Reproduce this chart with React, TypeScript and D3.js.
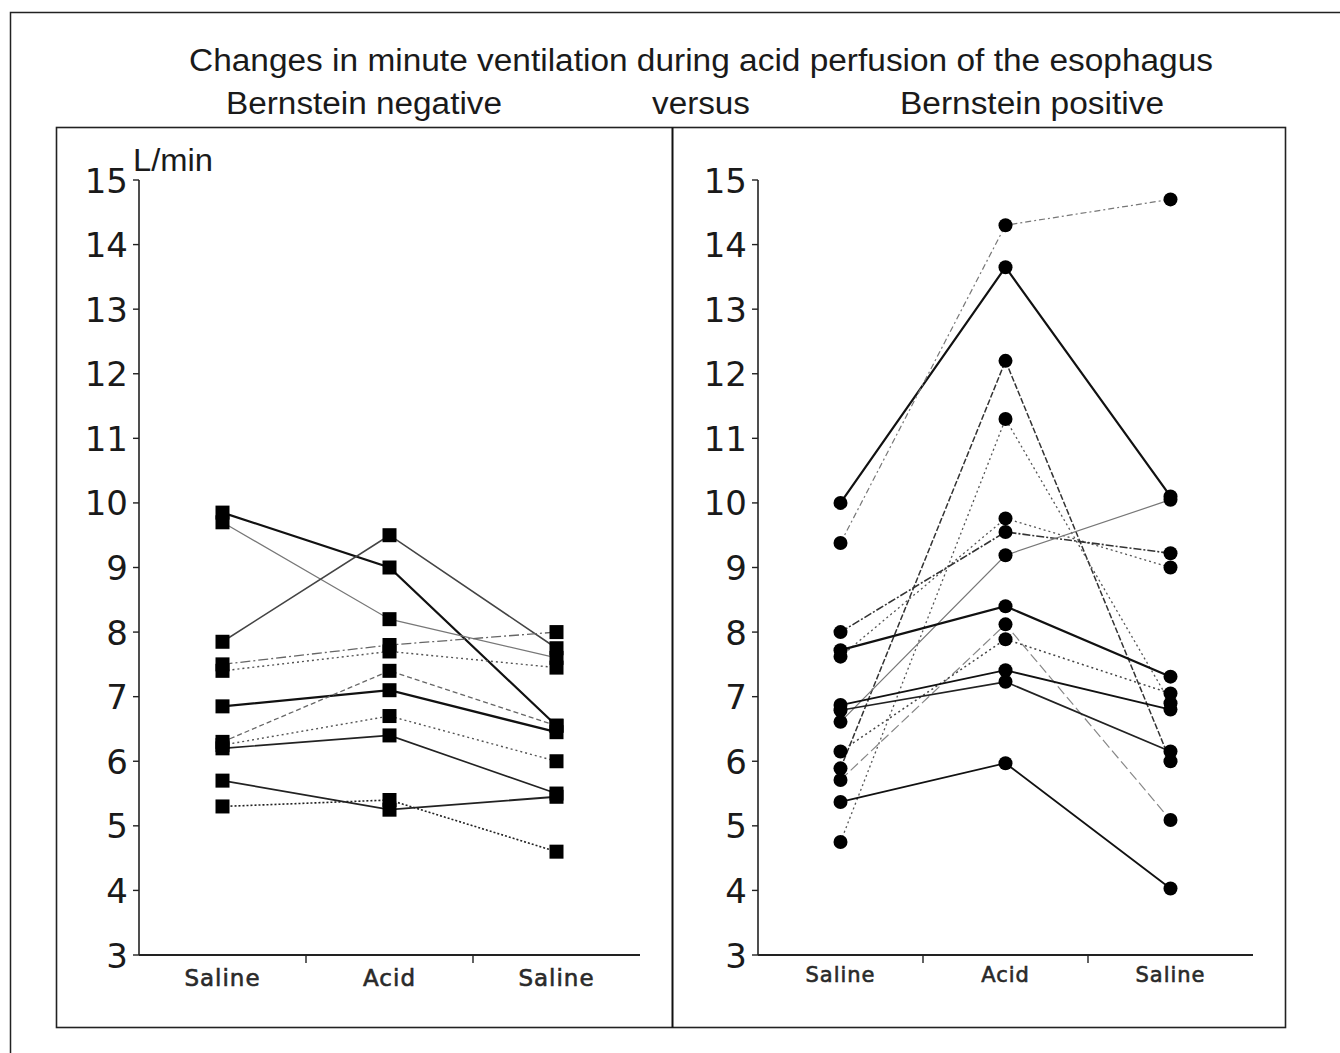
import React from "react";
import * as d3 from "d3";

// Phases of the perfusion protocol (x axis)
const phases = ["Saline", "Acid", "Saline"];
const yTicks = [3, 4, 5, 6, 7, 8, 9, 10, 11, 12, 13, 14, 15];

// Bernstein negative subjects: minute ventilation (L/min) per phase
const negSaline1 = [9.85, 9.7, 7.85, 7.5, 7.4, 6.85, 6.3, 6.25, 6.2, 5.7, 5.3];
const negAcid = [9.0, 8.2, 9.5, 7.8, 7.7, 7.1, 7.4, 6.7, 6.4, 5.25, 5.4];
const negSaline2 = [6.55, 7.6, 7.75, 8.0, 7.45, 6.45, 6.55, 6.0, 5.5, 5.45, 4.6];

// Bernstein positive subjects
const posSaline1 = [10.0, 9.38, 5.89, 4.75, 7.62, 8.0, 6.61, 7.72, 5.71, 6.15, 6.87, 6.79, 5.37];
const posAcid = [13.65, 14.3, 12.2, 11.3, 9.76, 9.55, 9.19, 8.4, 8.12, 7.89, 7.41, 7.23, 5.97];
const posSaline2 = [10.1, 14.7, 6.0, 6.9, 9.0, 9.22, 10.05, 7.31, 5.09, 7.05, 6.8, 6.15, 4.03];

type LineStyle = { stroke: string; width: number; dash?: string };

const negStyles: LineStyle[] = [
  { stroke: "#111", width: 2.2 },
  { stroke: "#777", width: 1.2 },
  { stroke: "#444", width: 1.6 },
  { stroke: "#666", width: 1.3, dash: "10,3,2,3" },
  { stroke: "#555", width: 1.4, dash: "2,3" },
  { stroke: "#111", width: 2.2 },
  { stroke: "#666", width: 1.3, dash: "5,3" },
  { stroke: "#555", width: 1.4, dash: "2,3" },
  { stroke: "#222", width: 1.6 },
  { stroke: "#222", width: 1.8 },
  { stroke: "#222", width: 1.6, dash: "2,2" },
];

const posStyles: LineStyle[] = [
  { stroke: "#111", width: 2.2 },
  { stroke: "#777", width: 1.2, dash: "6,3,2,3" },
  { stroke: "#333", width: 1.5, dash: "6,2" },
  { stroke: "#555", width: 1.3, dash: "2,3" },
  { stroke: "#555", width: 1.3, dash: "2,3" },
  { stroke: "#333", width: 1.6, dash: "8,2,2,2" },
  { stroke: "#777", width: 1.2 },
  { stroke: "#111", width: 2.2 },
  { stroke: "#888", width: 1.2, dash: "10,4" },
  { stroke: "#444", width: 1.5, dash: "2,3" },
  { stroke: "#111", width: 1.9 },
  { stroke: "#222", width: 1.7 },
  { stroke: "#111", width: 1.9 },
];

const FONT = "'Liberation Sans', Arial, Helvetica, sans-serif";
const TICK_FONT = "'DejaVu Sans', Verdana, sans-serif";

type PanelProps = {
  axisX: number;
  endX: number;
  s1: number[];
  ac: number[];
  s2: number[];
  styles: LineStyle[];
  marker: "square" | "circle";
  labelSize: number;
  labelY: number;
};

function Panel({ axisX, endX, s1, ac, s2, styles, marker, labelSize, labelY }: PanelProps) {
  const y = d3.scaleLinear().domain([3, 15]).range([955, 180]);
  const x = d3.scaleBand<number>().domain([0, 1, 2]).range([axisX, endX]);
  const cx = (i: number) => (x(i) as number) + x.bandwidth() / 2;
  const line = d3
    .line<[number, number]>()
    .x((d) => cx(d[0]))
    .y((d) => y(d[1]));
  const subjects = s1.map((v, i) => [v, ac[i], s2[i]]);

  return (
    <g>
      {/* y axis */}
      <line x1={axisX} x2={axisX} y1={y(15)} y2={y(3)} stroke="#222" strokeWidth={1.6} />
      {yTicks.map((t) => (
        <g key={t}>
          <line x1={axisX - 6} x2={axisX} y1={y(t)} y2={y(t)} stroke="#222" strokeWidth={1.4} />
          <text
            x={axisX - 11}
            y={y(t)}
            dy="0.37em"
            textAnchor="end"
            fontFamily={TICK_FONT}
            fontSize={34}
            fill="#1a1a1a"
          >
            {t}
          </text>
        </g>
      ))}
      {/* x axis */}
      <line x1={axisX} x2={endX} y1={y(3)} y2={y(3)} stroke="#222" strokeWidth={2} />
      {[1, 2].map((i) => (
        <line
          key={i}
          x1={x(i) as number}
          x2={x(i) as number}
          y1={y(3)}
          y2={y(3) + 8}
          stroke="#222"
          strokeWidth={1.4}
        />
      ))}
      {phases.map((p, i) => (
        <text
          key={i}
          x={cx(i)}
          y={labelY}
          textAnchor="middle"
          fontFamily={TICK_FONT}
          fontSize={labelSize}
          letterSpacing={1}
          fill="#2a2a2a"
          stroke="#2a2a2a"
          strokeWidth={0.6}
        >
          {p}
        </text>
      ))}
      {/* subject lines */}
      {subjects.map((vals, i) => (
        <path
          key={i}
          d={line(vals.map((v, k) => [k, v] as [number, number])) as string}
          fill="none"
          stroke={styles[i].stroke}
          strokeWidth={styles[i].width}
          strokeDasharray={styles[i].dash}
        />
      ))}
      {/* markers */}
      {subjects.map((vals, i) =>
        vals.map((v, k) =>
          marker === "square" ? (
            <rect key={`${i}-${k}`} x={cx(k) - 7} y={y(v) - 7} width={14} height={14} fill="#000" />
          ) : (
            <circle key={`${i}-${k}`} cx={cx(k)} cy={y(v)} r={7} fill="#000" />
          )
        )
      )}
    </g>
  );
}

export default function App() {
  return (
    <svg width={1340} height={1053} style={{ display: "block", position: "absolute", left: 0, top: 0 }}>
      <rect x={0} y={0} width={1340} height={1053} fill="#fff" />
      {/* outer frame */}
      <rect x={10.5} y={12.5} width={1400} height={1100} fill="none" stroke="#222" strokeWidth={1.5} />
      {/* titles */}
      <text x={701} y={71} textAnchor="middle" fontFamily={FONT} fontSize={31} fill="#1a1a1a" textLength={1024} lengthAdjust="spacingAndGlyphs">
        Changes in minute ventilation during acid perfusion of the esophagus
      </text>
      <text x={364} y={114} textAnchor="middle" fontFamily={FONT} fontSize={31} fill="#1a1a1a" textLength={276} lengthAdjust="spacingAndGlyphs">
        Bernstein negative
      </text>
      <text x={701} y={114} textAnchor="middle" fontFamily={FONT} fontSize={31} fill="#1a1a1a" textLength={98} lengthAdjust="spacingAndGlyphs">
        versus
      </text>
      <text x={1032} y={114} textAnchor="middle" fontFamily={FONT} fontSize={31} fill="#1a1a1a" textLength={264} lengthAdjust="spacingAndGlyphs">
        Bernstein positive
      </text>
      {/* panel boxes */}
      <rect x={56.5} y={127.5} width={1229} height={900} fill="none" stroke="#222" strokeWidth={1.6} />
      <line x1={672.5} x2={672.5} y1={127.5} y2={1027.5} stroke="#111" strokeWidth={2} />
      <text x={133} y={171} fontFamily={FONT} fontSize={31} fill="#1a1a1a" textLength={80} lengthAdjust="spacingAndGlyphs">
        L/min
      </text>
      <Panel
        axisX={139}
        endX={640}
        s1={negSaline1}
        ac={negAcid}
        s2={negSaline2}
        styles={negStyles}
        marker="square"
        labelSize={23}
        labelY={986}
      />
      <Panel
        axisX={758}
        endX={1253}
        s1={posSaline1}
        ac={posAcid}
        s2={posSaline2}
        styles={posStyles}
        marker="circle"
        labelSize={21}
        labelY={982}
      />
    </svg>
  );
}
